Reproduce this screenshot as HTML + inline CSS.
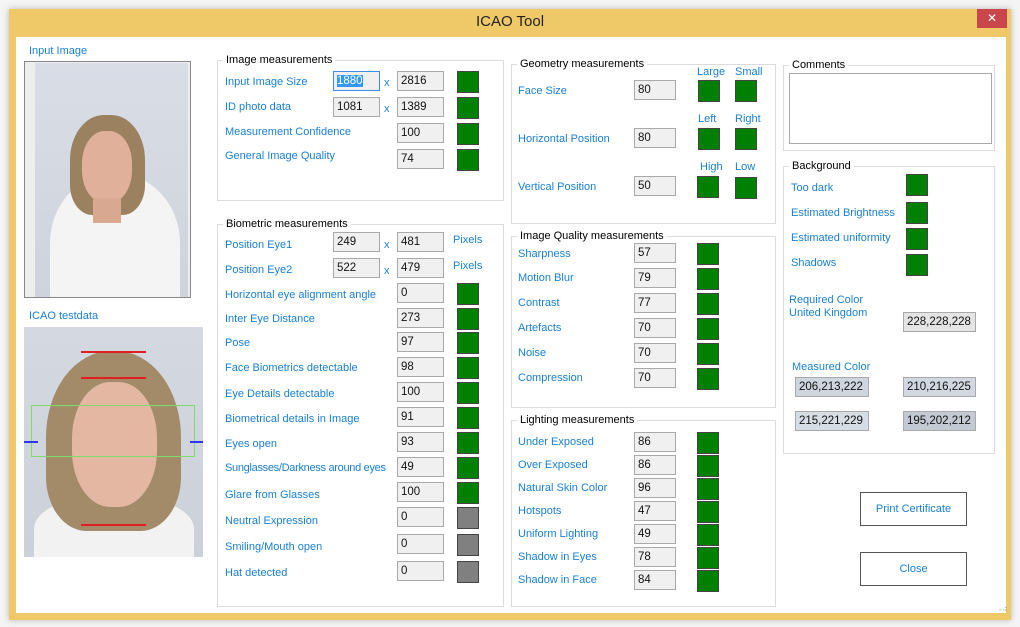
<!DOCTYPE html>
<html><head><meta charset="utf-8"><style>
*{box-sizing:border-box;margin:0;padding:0}
body{width:1020px;height:627px;background:#fff;position:relative;overflow:hidden;font-family:"Liberation Sans",sans-serif;font-size:11px;color:#000}
.a{position:absolute}
.l{position:absolute;color:#1a7fd4;line-height:16px;white-space:nowrap}
.t{position:absolute;height:20px;border:1px solid #a9a9a9;background:#f0f0f0;line-height:18px;padding-left:3px;color:#111;white-space:nowrap;font-size:11.5px}
.g{position:absolute;width:22px;height:22px;background:#008000;border:1px solid #444}
.gr{background:#808080}
.gb{position:absolute;border:1px solid #dcdcdc}
.gt{position:absolute;background:#fff;padding:0 3px;line-height:14px;top:-8px;left:5px;color:#000}
.btn{position:absolute;border:1px solid #555;background:#fff;color:#1a7fd4;text-align:center;line-height:32px}
</style></head><body>
<div class="a" style="left:0;top:0;width:1020px;height:627px;background:#f4f4f4"></div>
<div class="a" style="left:9px;top:9px;width:1002px;height:611px;background:#efc867;box-shadow:0 0 6px rgba(0,0,0,.25)"></div>
<div class="a" style="left:16px;top:37px;width:990px;height:576px;background:#fff"></div>
<div class="a" style="left:0;top:13px;width:1020px;text-align:center;font-size:15px;color:#222">ICAO Tool</div>
<div class="a" style="left:977px;top:9px;width:30px;height:19px;background:#c9474a;color:#fff;text-align:center;line-height:19px;font-size:12px">✕</div>

<div class="l" style="left:29px;top:43px">Input Image</div>
<div class="a" style="left:24px;top:61px;width:167px;height:237px;border:1px solid #888;background:#eee"></div>
<div class="a" style="left:35px;top:63px;width:153px;height:234px;background:linear-gradient(#d9dde6,#cfd3dc);overflow:hidden">
 <div class="a" style="left:15px;top:110px;width:130px;height:140px;border-radius:50% 50% 10% 10%;background:#f4f4f4"></div>
 <div class="a" style="left:35px;top:52px;width:75px;height:100px;border-radius:45% 45% 30% 30%;background:#9b8160"></div>
 <div class="a" style="left:47px;top:68px;width:50px;height:72px;border-radius:45%;background:#e0b09a"></div>
 <div class="a" style="left:58px;top:135px;width:28px;height:25px;background:#d9a891"></div>
</div>
<div class="l" style="left:29px;top:308px">ICAO testdata</div>
<div class="a" style="left:24px;top:327px;width:179px;height:230px;background:linear-gradient(#d4d8e0,#ccd0d8);overflow:hidden">
 <div class="a" style="left:10px;top:170px;width:160px;height:80px;border-radius:40% 40% 0 0;background:#f2f2f2"></div>
 <div class="a" style="left:22px;top:24px;width:135px;height:180px;border-radius:48% 48% 30% 30%;background:#a38b6a"></div>
 <div class="a" style="left:48px;top:55px;width:85px;height:125px;border-radius:45%;background:#e3b7a2"></div>
 <div class="a" style="left:57px;top:24px;width:65px;height:2px;background:#e02020"></div>
 <div class="a" style="left:57px;top:50px;width:65px;height:2px;background:#e02020"></div>
 <div class="a" style="left:57px;top:197px;width:65px;height:2px;background:#e02020"></div>
 <div class="a" style="left:7px;top:78px;width:164px;height:52px;border:1px solid #7ddc6a"></div>
 <div class="a" style="left:0;top:114px;width:14px;height:2px;background:#3333ff"></div>
 <div class="a" style="left:166px;top:114px;width:13px;height:2px;background:#3333ff"></div>
</div>

<!-- Image measurements -->
<div class="gb" style="left:217px;top:60px;width:287px;height:141px"><span class="gt">Image measurements</span></div>
<div class="l" style="left:225px;top:74px">Input Image Size</div>
<div class="t" style="left:333px;top:71px;width:47px;border-color:#3d8ee6"><span style="background:#3399ff;color:#fff">1880</span></div>
<div class="l" style="left:384px;top:75px">x</div>
<div class="t" style="left:397px;top:71px;width:47px">2816</div><div class="g" style="left:457px;top:71px"></div>
<div class="l" style="left:225px;top:99px">ID photo data</div>
<div class="t" style="left:333px;top:97px;width:47px">1081</div>
<div class="l" style="left:384px;top:101px">x</div>
<div class="t" style="left:397px;top:97px;width:47px">1389</div><div class="g" style="left:457px;top:97px"></div>
<div class="l" style="left:225px;top:124px">Measurement Confidence</div>
<div class="t" style="left:397px;top:123px;width:47px">100</div><div class="g" style="left:457px;top:123px"></div>
<div class="l" style="left:225px;top:148px">General Image Quality</div>
<div class="t" style="left:397px;top:149px;width:47px">74</div><div class="g" style="left:457px;top:149px"></div>

<!-- Biometric -->
<div class="gb" style="left:217px;top:224px;width:287px;height:383px"><span class="gt">Biometric measurements</span></div>
<div class="l" style="left:225px;top:237px">Position Eye1</div>
<div class="t" style="left:333px;top:232px;width:47px">249</div><div class="l" style="left:384px;top:237px">x</div>
<div class="t" style="left:397px;top:232px;width:47px">481</div><div class="l" style="left:453px;top:232px">Pixels</div>
<div class="l" style="left:225px;top:262px">Position Eye2</div>
<div class="t" style="left:333px;top:258px;width:47px">522</div><div class="l" style="left:384px;top:263px">x</div>
<div class="t" style="left:397px;top:258px;width:47px">479</div><div class="l" style="left:453px;top:258px">Pixels</div>

<div class="l" style="left:225px;top:287px">Horizontal eye alignment angle</div><div class="t" style="left:397px;top:283px;width:47px">0</div><div class="g" style="left:457px;top:283px"></div>
<div class="l" style="left:225px;top:311px">Inter Eye Distance</div><div class="t" style="left:397px;top:308px;width:47px">273</div><div class="g" style="left:457px;top:308px"></div>
<div class="l" style="left:225px;top:335px">Pose</div><div class="t" style="left:397px;top:332px;width:47px">97</div><div class="g" style="left:457px;top:332px"></div>
<div class="l" style="left:225px;top:360px">Face Biometrics detectable</div><div class="t" style="left:397px;top:357px;width:47px">98</div><div class="g" style="left:457px;top:357px"></div>
<div class="l" style="left:225px;top:386px">Eye Details detectable</div><div class="t" style="left:397px;top:382px;width:47px">100</div><div class="g" style="left:457px;top:382px"></div>
<div class="l" style="left:225px;top:411px">Biometrical details in Image</div><div class="t" style="left:397px;top:407px;width:47px">91</div><div class="g" style="left:457px;top:407px"></div>
<div class="l" style="left:225px;top:436px">Eyes open</div><div class="t" style="left:397px;top:432px;width:47px">93</div><div class="g" style="left:457px;top:432px"></div>
<div class="l" style="left:225px;top:460px;letter-spacing:-0.3px">Sunglasses/Darkness around eyes</div><div class="t" style="left:397px;top:457px;width:47px">49</div><div class="g" style="left:457px;top:457px"></div>
<div class="l" style="left:225px;top:487px">Glare from Glasses</div><div class="t" style="left:397px;top:482px;width:47px">100</div><div class="g" style="left:457px;top:482px"></div>
<div class="l" style="left:225px;top:513px">Neutral Expression</div><div class="t" style="left:397px;top:507px;width:47px">0</div><div class="g gr" style="left:457px;top:507px"></div>
<div class="l" style="left:225px;top:539px">Smiling/Mouth open</div><div class="t" style="left:397px;top:534px;width:47px">0</div><div class="g gr" style="left:457px;top:534px"></div>
<div class="l" style="left:225px;top:565px">Hat detected</div><div class="t" style="left:397px;top:561px;width:47px">0</div><div class="g gr" style="left:457px;top:561px"></div>

<!-- Geometry -->
<div class="gb" style="left:511px;top:64px;width:265px;height:160px"><span class="gt">Geometry measurements</span></div>
<div class="l" style="left:697px;top:64px">Large</div><div class="l" style="left:735px;top:64px">Small</div>
<div class="l" style="left:518px;top:83px">Face Size</div><div class="t" style="left:634px;top:80px;width:42px">80</div>
<div class="g" style="left:698px;top:80px"></div><div class="g" style="left:735px;top:80px"></div>
<div class="l" style="left:698px;top:111px">Left</div><div class="l" style="left:735px;top:111px">Right</div>
<div class="l" style="left:518px;top:131px">Horizontal Position</div><div class="t" style="left:634px;top:128px;width:42px">80</div>
<div class="g" style="left:698px;top:128px"></div><div class="g" style="left:735px;top:128px"></div>
<div class="l" style="left:700px;top:159px">High</div><div class="l" style="left:735px;top:159px">Low</div>
<div class="l" style="left:518px;top:179px">Vertical Position</div><div class="t" style="left:634px;top:176px;width:42px">50</div>
<div class="g" style="left:697px;top:176px"></div><div class="g" style="left:735px;top:177px"></div>

<!-- Image quality -->
<div class="gb" style="left:511px;top:236px;width:265px;height:172px"><span class="gt">Image Quality measurements</span></div>
<div class="l" style="left:518px;top:246px">Sharpness</div><div class="t" style="left:634px;top:243px;width:42px">57</div><div class="g" style="left:697px;top:243px"></div>
<div class="l" style="left:518px;top:270px">Motion Blur</div><div class="t" style="left:634px;top:268px;width:42px">79</div><div class="g" style="left:697px;top:268px"></div>
<div class="l" style="left:518px;top:295px">Contrast</div><div class="t" style="left:634px;top:293px;width:42px">77</div><div class="g" style="left:697px;top:293px"></div>
<div class="l" style="left:518px;top:320px">Artefacts</div><div class="t" style="left:634px;top:318px;width:42px">70</div><div class="g" style="left:697px;top:318px"></div>
<div class="l" style="left:518px;top:345px">Noise</div><div class="t" style="left:634px;top:343px;width:42px">70</div><div class="g" style="left:697px;top:343px"></div>
<div class="l" style="left:518px;top:370px">Compression</div><div class="t" style="left:634px;top:368px;width:42px">70</div><div class="g" style="left:697px;top:368px"></div>

<!-- Lighting -->
<div class="gb" style="left:511px;top:420px;width:265px;height:187px"><span class="gt">Lighting measurements</span></div>
<div class="l" style="left:518px;top:434px">Under Exposed</div><div class="t" style="left:634px;top:432px;width:42px">86</div><div class="g" style="left:697px;top:432px"></div>
<div class="l" style="left:518px;top:457px">Over Exposed</div><div class="t" style="left:634px;top:455px;width:42px">86</div><div class="g" style="left:697px;top:455px"></div>
<div class="l" style="left:518px;top:480px">Natural Skin Color</div><div class="t" style="left:634px;top:478px;width:42px">96</div><div class="g" style="left:697px;top:478px"></div>
<div class="l" style="left:518px;top:503px">Hotspots</div><div class="t" style="left:634px;top:501px;width:42px">47</div><div class="g" style="left:697px;top:501px"></div>
<div class="l" style="left:518px;top:526px">Uniform Lighting</div><div class="t" style="left:634px;top:524px;width:42px">49</div><div class="g" style="left:697px;top:524px"></div>
<div class="l" style="left:518px;top:549px">Shadow in Eyes</div><div class="t" style="left:634px;top:547px;width:42px">78</div><div class="g" style="left:697px;top:547px"></div>
<div class="l" style="left:518px;top:572px">Shadow in Face</div><div class="t" style="left:634px;top:570px;width:42px">84</div><div class="g" style="left:697px;top:570px"></div>

<!-- Comments -->
<div class="gb" style="left:783px;top:65px;width:212px;height:86px"><span class="gt">Comments</span></div>
<div class="a" style="left:789px;top:73px;width:203px;height:71px;border:1px solid #aaa"></div>

<!-- Background -->
<div class="gb" style="left:783px;top:166px;width:212px;height:288px"><span class="gt">Background</span></div>
<div class="l" style="left:791px;top:180px">Too dark</div><div class="g" style="left:906px;top:174px"></div>
<div class="l" style="left:791px;top:205px">Estimated Brightness</div><div class="g" style="left:906px;top:202px"></div>
<div class="l" style="left:791px;top:230px">Estimated uniformity</div><div class="g" style="left:906px;top:228px"></div>
<div class="l" style="left:791px;top:255px">Shadows</div><div class="g" style="left:906px;top:254px"></div>
<div class="l" style="left:789px;top:294px;line-height:13px">Required Color<br>United Kingdom</div>
<div class="t" style="left:903px;top:312px;width:73px;background:#e4e4e4">228,228,228</div>
<div class="l" style="left:792px;top:359px">Measured Color</div>
<div class="t" style="left:795px;top:377px;width:74px;background:#ced5de">206,213,222</div>
<div class="t" style="left:903px;top:377px;width:73px;background:#d2d8e1">210,216,225</div>
<div class="t" style="left:795px;top:411px;width:74px;background:#d7dde5">215,221,229</div>
<div class="t" style="left:903px;top:411px;width:73px;background:#c3cad4">195,202,212</div>

<div class="btn" style="left:860px;top:492px;width:107px;height:34px">Print Certificate</div>
<div class="btn" style="left:860px;top:552px;width:107px;height:34px">Close</div>
<div class="a" style="left:996px;top:604px;font-size:8px;color:#999">⠠⠴</div>
</body></html>
